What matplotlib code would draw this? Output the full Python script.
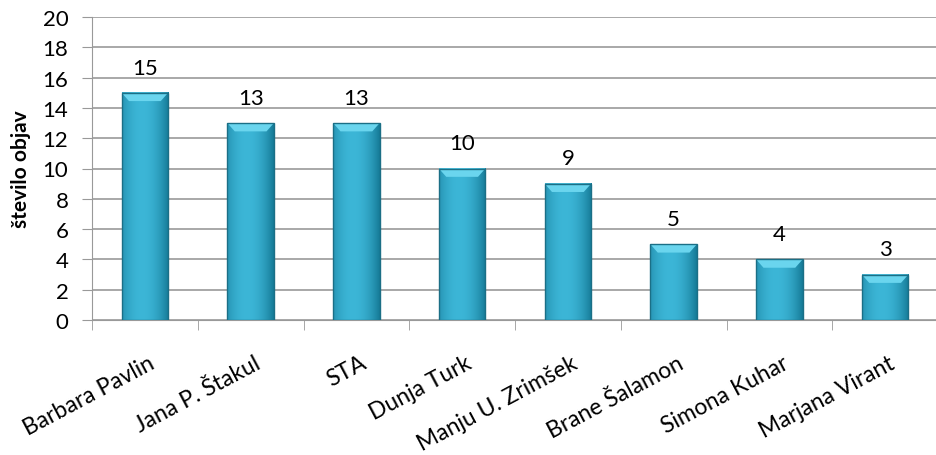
import matplotlib.pyplot as plt
import numpy as np
from matplotlib.colors import to_rgb
from matplotlib.patches import Polygon

plt.rcParams['font.family'] = ['Lato', 'DejaVu Sans']

names = ['Barbara Pavlin', 'Jana P. Štakul', 'STA', 'Dunja Turk',
         'Manju U. Zrimšek', 'Brane Šalamon', 'Simona Kuhar', 'Marjana Virant']
counts = [15, 13, 13, 10, 9, 5, 4, 3]

fig = plt.figure(figsize=(9.36, 4.56), dpi=100)
ax = fig.add_axes([92 / 936, 1 - 321 / 456, 846 / 936, 303 / 456])

x = np.arange(len(names))
bars = ax.bar(x, counts, width=0.44, facecolor='none', edgecolor='#1b6f86',
              linewidth=1.0, zorder=5)

# horizontal shading, dark at the sides
edge = np.array(to_rgb('#1f89a7'))
mid = np.array(to_rgb('#3cb6d7'))
t = np.linspace(-1, 1, 60)
w = 1 - np.abs(t + 0.15) ** 2
grad = (edge[None, :] * (1 - w[:, None]) + mid[None, :] * w[:, None])[None, :, :]

for b in bars:
    x0, x1 = b.get_x(), b.get_x() + b.get_width()
    h = b.get_height()
    ax.imshow(grad, extent=[x0, x1, 0, h], aspect='auto', zorder=3,
              interpolation='bilinear')
    d, e = 0.07, 0.55
    ax.add_patch(Polygon([(x0, h), (x1, h), (x1 - d, h - e), (x0 + d, h - e)],
                         closed=True, facecolor='#6ad5ee', edgecolor='none',
                         zorder=4))

for xi, v in zip(x, counts):
    ax.text(xi, v + 1.0, str(v), ha='center', va='bottom', fontsize=16)

ax.set_xlim(-0.5, len(names) - 0.5)
ax.set_ylim(0, 20)
ax.set_yticks(np.arange(0, 21, 2))
ax.tick_params(axis='y', labelsize=16, length=7, color='#999999', pad=10)
ax.grid(axis='y', color='#999999', linewidth=1.2, zorder=0)

ax.set_xticks(np.arange(len(names) + 1) - 0.5, minor=True)
ax.set_xticks(x + 0.03)
ax.set_xticklabels(names, rotation=28, ha='right', rotation_mode='anchor',
                   fontsize=16.5)
ax.tick_params(axis='x', which='major', length=0, pad=23)
ax.tick_params(axis='x', which='minor', length=7, color='#999999')

for side in ['top', 'right']:
    ax.spines[side].set_visible(False)
ax.spines['left'].set_color('#999999')
ax.spines['bottom'].set_color('#999999')

ax.set_ylabel('število objav', fontsize=15, fontweight='bold', labelpad=8)

fig.savefig('out.png', dpi=100)
